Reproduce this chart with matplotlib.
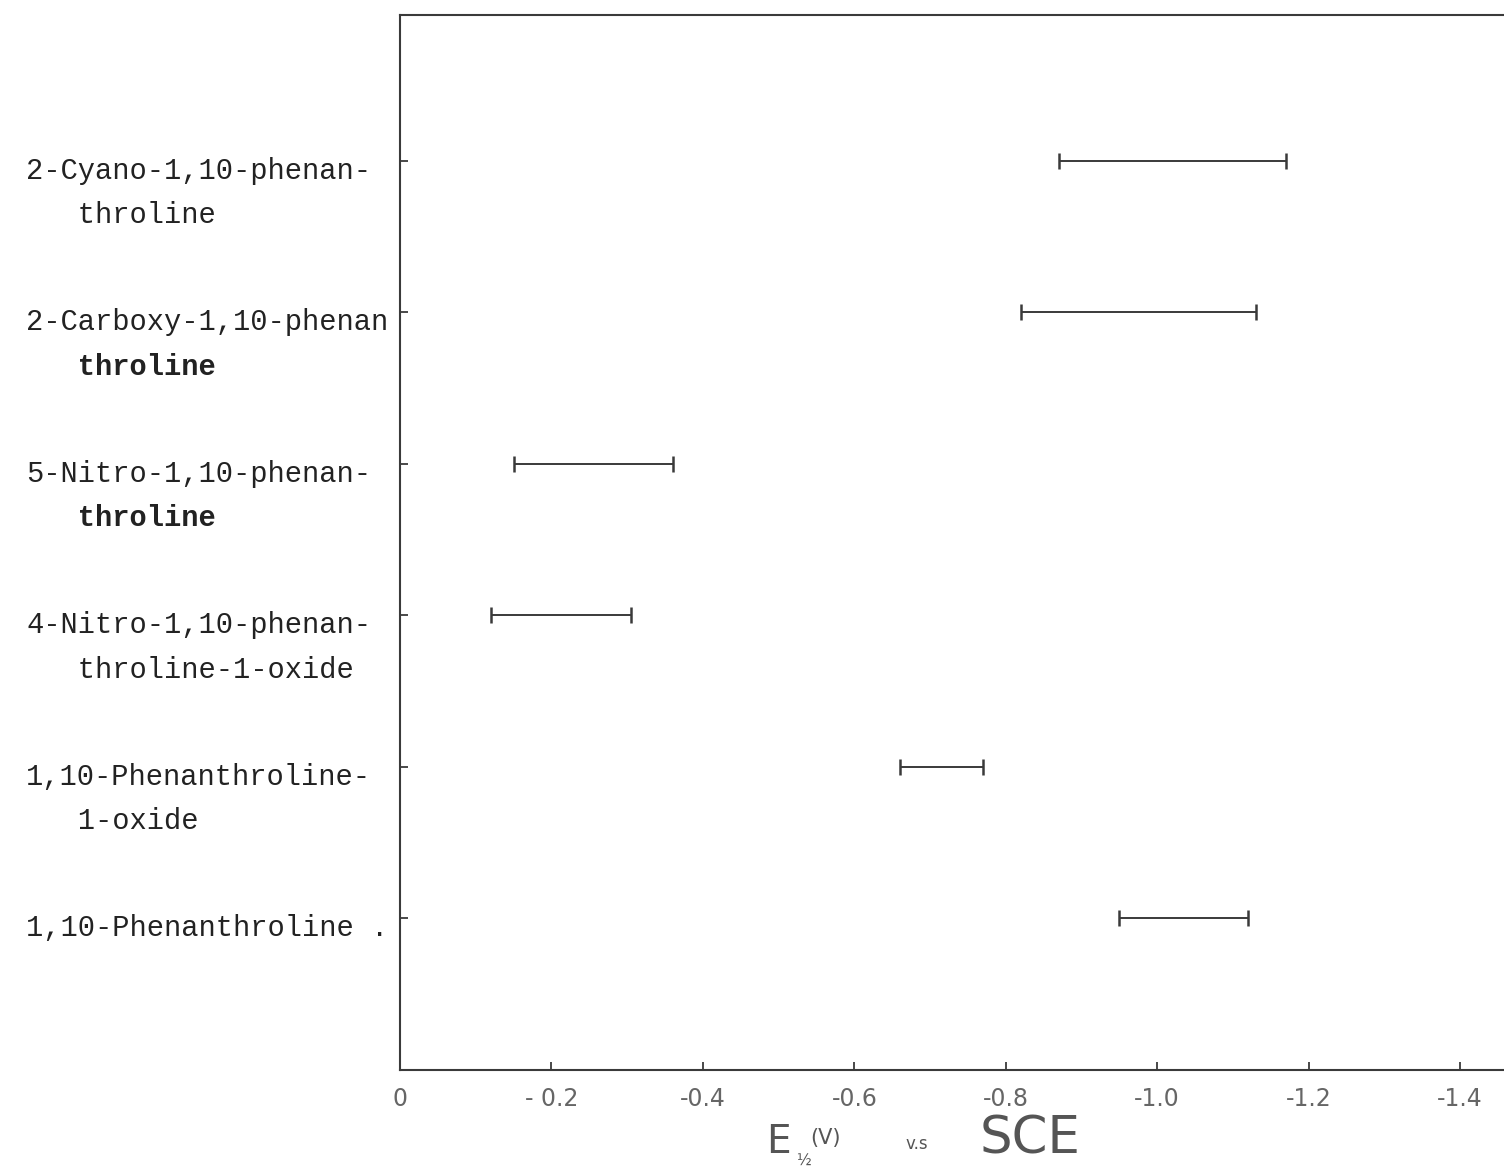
import matplotlib.pyplot as plt
from matplotlib.transforms import blended_transform_factory

# compounds, listed top to bottom
label_line1 = ["2-Cyano-1,10-phenan-", "2-Carboxy-1,10-phenan", "5-Nitro-1,10-phenan-",
               "4-Nitro-1,10-phenan-", "1,10-Phenanthroline-", "1,10-Phenanthroline ."]
label_line2 = ["throline", "throline", "throline", "throline-1-oxide", "1-oxide", ""]
bold_line2 = [False, True, True, False, False, False]

# half-wave potential ranges (V vs SCE)
e_start = [-0.87, -0.82, -0.15, -0.12, -0.66, -0.95]
e_end = [-1.17, -1.13, -0.36, -0.305, -0.77, -1.12]

xticks = [0, -0.2, -0.4, -0.6, -0.8, -1.0, -1.2, -1.4]
xtick_labels = ["0", "- 0.2", "-0.4", "-0.6", "-0.8", "-1.0", "-1.2", "-1.4"]

W, H = 1504, 1173
fig = plt.figure(figsize=(W / 100, H / 100), dpi=100)
ax = fig.add_axes([400 / W, 1 - 1070 / H, 1 - 400 / W, (1070 - 15) / H])

ink = "#3a3a3a"
ypos = list(range(len(label_line1), 0, -1))

# range bars with small end caps
ax.hlines(ypos, e_start, e_end, color=ink, lw=1.4)
ax.plot(e_start + e_end, ypos + ypos, ls="none", marker="|", ms=11, mew=1.8, color=ink)

ax.set_xlim(0, -1.458)
ax.set_ylim(0, 6.96)

ax.spines["right"].set_visible(False)
for side in ["left", "bottom", "top"]:
    ax.spines[side].set_color(ink)
    ax.spines[side].set_linewidth(1.5)

ax.set_yticks(ypos)
ax.set_yticklabels([])
ax.tick_params(axis="y", direction="in", length=6, width=1.3, color=ink)

ax.set_xticks(xticks)
ax.set_xticklabels(xtick_labels, fontsize=17, color="#666666", family="DejaVu Sans")
ax.tick_params(axis="x", direction="in", length=6, width=1.3, color=ink, pad=12)

# typewritten compound names
trans = blended_transform_factory(fig.transFigure, ax.transData)
mono = "Liberation Mono"
for y, l1, l2, b in zip(ypos, label_line1, label_line2, bold_line2):
    ax.text(26 / W, y - 0.066, l1, transform=trans, ha="left", va="center",
            family=mono, fontsize=20.7, color="#222222")
    if l2:
        ax.text(26 / W, y - 0.36, "   " + l2, transform=trans, ha="left", va="center",
                family=mono, fontsize=20.7, color="#222222",
                fontweight="bold" if b else "normal")

# hand-lettered axis title: E1/2 (V) v.s SCE
hand = "#555555"
fig.text(766 / W, 1 - 1142 / H, "E", fontsize=28, color=hand, ha="left", va="center")
fig.text(796 / W, 1 - 1161 / H, "½", fontsize=11, color=hand, ha="left", va="center")
fig.text(810 / W, 1 - 1138 / H, "(V)", fontsize=15, color=hand, ha="left", va="center")
fig.text(905 / W, 1 - 1144 / H, "v.s", fontsize=12, color=hand, ha="left", va="center")
fig.text(980 / W, 1 - 1140 / H, "SCE", fontsize=37, color=hand, ha="left", va="center")

fig.savefig("out.png", dpi=100, facecolor="white")
